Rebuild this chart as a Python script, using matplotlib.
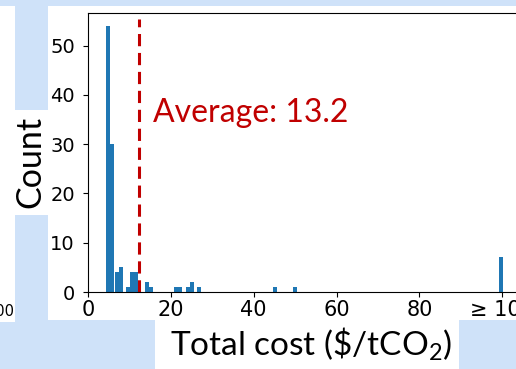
import matplotlib
matplotlib.use("Agg")
import matplotlib.pyplot as plt
from matplotlib.patches import Rectangle

plt.rcParams['mathtext.fontset'] = 'custom'
plt.rcParams['mathtext.rm'] = 'Lato'

# histogram bins (left edge of each bin, $/tCO2)
bin_left = [4.4, 5.4, 6.4, 7.4, 9.2, 10.2, 11.2, 13.8, 14.8, 20.8, 21.8,
            23.6, 24.6, 26.4, 44.6, 49.4, 99.1]
counts = [54, 30, 4, 5, 1, 4, 4, 2, 1, 1, 1, 1, 2, 1, 1, 1, 7]
avg_x = 12.3
avg_label = 'Average: 13.2'
xticks = [0, 20, 40, 60, 80, 100]
xtick_labels = ['0', '20', '40', '60', '80', '≥ 100']
yticks = [0, 10, 20, 30, 40, 50]

W, H = 516, 369
bg = '#cfe2f9'
fig = plt.figure(figsize=(W / 100, H / 100), dpi=100, facecolor=bg)


def box(x0, y0, x1, y1, color='white'):
    # pixel box, y measured from the top
    fig.add_artist(Rectangle((x0 / W, 1 - y1 / H), (x1 - x0) / W, (y1 - y0) / H,
                             transform=fig.transFigure, facecolor=color,
                             edgecolor='none', zorder=-1))


box(0, 6, 15, 322)      # neighbouring panel
box(48, 6, 516, 320)    # main panel
box(15, 110, 48, 215)   # y label box
box(155, 320, 459, 369) # x label box

fig.text(14 / W, 1 - 312 / H, '100', ha='right', va='center', fontsize=10.5)

ax = fig.add_axes([88 / W, 1 - 292 / H, 435 / W, 279 / H])
ax.bar(bin_left, counts, width=0.97, align='edge', color='#1f77b4')
ax.axvline(avg_x, ymax=0.98, color='#c00000', lw=2.2, ls=(0, (4, 2.2)))
ax.text(15.8, 36.3, avg_label, color='#c00000', fontsize=23, family='Lato',
        va='center', ha='left')

ax.set_xlim(0, 105)
ax.set_ylim(0, 56.6)
ax.set_xticks(xticks)
ax.set_xticklabels(xtick_labels)
ax.set_yticks(yticks)
ax.tick_params(axis='x', labelsize=15, pad=2)
ax.tick_params(axis='y', labelsize=14, pad=6)

fig.text(30 / W, 1 - 162 / H, 'Count', rotation=90, ha='center', va='center',
         fontsize=24.5, family='Lato')
fig.text(311 / W, 1 - 344 / H, r'Total cost (\$/tCO$_2$)', ha='center',
         va='center', fontsize=24, family='Lato')

fig.savefig('out.png', dpi=100, facecolor=bg)
